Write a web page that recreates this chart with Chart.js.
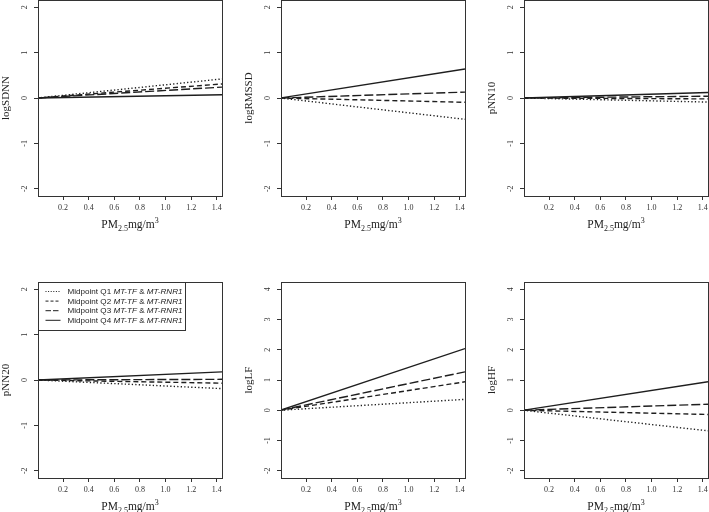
<!DOCTYPE html>
<html>
<head>
<meta charset="utf-8">
<script src="https://cdn.jsdelivr.net/npm/chart.js@4.4.0/dist/chart.umd.min.js"></script>
<style>
  html,body{margin:0;padding:0;background:#fff;}
  body{width:709px;height:512px;overflow:hidden;position:relative;}
  canvas{position:absolute;}
</style>
</head>
<body>
<script>
// ---------- data ----------
const panelNames = ['logSDNN', 'logRMSSD', 'pNN10', 'pNN20', 'logLF', 'logHF'];
const xValues = [0, 1.44];                       // PM2.5 (mg/m3) at line start / end
const q1Values = [[0, 0.42], [0, -0.47], [0, -0.09], [0, -0.19], [0, 0.36], [0, -0.68]];
const q2Values = [[0, 0.31], [0, -0.095], [0, -0.02], [0, -0.07], [0, 0.94], [0, -0.14]];
const q3Values = [[0, 0.24], [0, 0.13], [0, 0.04], [0, 0.015], [0, 1.27], [0, 0.20]];
const q4Values = [[0, 0.07], [0, 0.64], [0, 0.12], [0, 0.18], [0, 2.04], [0, 0.94]];
const yTickMin = [-2, -2, -2, -2, -2, -2];
const yTickMax = [2, 2, 2, 2, 4, 4];
const xTickMin = 0.2, xTickMax = 1.4;
const seriesLabels = ['Midpoint Q1', 'Midpoint Q2', 'Midpoint Q3', 'Midpoint Q4'];
const geneLabels = ['MT-TF', 'MT-RNR1'];

// ---------- styles ----------
const seriesValues = [q1Values, q2Values, q3Values, q4Values];
const dashes = [[1.3, 2.2], [5, 3], [9, 3], []];
const legendDashes = [[1, 1.6], [3, 2], [5.5, 2], []];
const lineColor = '#1e1e1e';
const axisColor = '#333';
const serif = "'Liberation Serif', 'Times New Roman', serif";
const sans = "'Liberation Sans', Arial, sans-serif";

const colLeft = [0, 243, 486];
const rowTop = [0, 256];
const W = 236, H = 256;
const areaTop = [0, 26];
const xAxisH = [60, 34];

const framePlugin = {
  id: 'frame',
  afterDraw(chart) {
    const {ctx, chartArea: a} = chart;
    ctx.save();
    ctx.strokeStyle = axisColor;
    ctx.lineWidth = 1;
    ctx.strokeRect(Math.round(a.left) + 0.5, Math.round(a.top) + 0.5,
                   Math.round(a.right - a.left), Math.round(a.bottom - a.top));
    // x-axis title with subscript / superscript
    const cx = (a.left + a.right) / 2;
    const by = a.bottom + 32;
    const parts = [
      {t: 'PM', s: 11.5, dy: 0},
      {t: '2.5', s: 8, dy: 3},
      {t: 'mg/m', s: 11.5, dy: 0},
      {t: '3', s: 8, dy: -5}
    ];
    let total = 0;
    parts.forEach(p => { ctx.font = p.s + 'px ' + serif; p.w = ctx.measureText(p.t).width; total += p.w; });
    let x = cx - total / 2;
    ctx.fillStyle = '#222';
    ctx.textBaseline = 'alphabetic';
    ctx.textAlign = 'left';
    parts.forEach(p => { ctx.font = p.s + 'px ' + serif; ctx.fillText(p.t, x, by + p.dy); x += p.w; });
    ctx.restore();
  }
};

const legendPlugin = {
  id: 'qlegend',
  afterDraw(chart) {
    if (!chart.options.plugins.qlegend || !chart.options.plugins.qlegend.show) return;
    const {ctx, chartArea: a} = chart;
    const left = Math.round(a.left) + 0.5, top = Math.round(a.top) + 0.5;
    ctx.save();
    ctx.strokeStyle = axisColor;
    ctx.lineWidth = 1;
    ctx.fillStyle = '#fff';
    ctx.fillRect(left, top, 147, 48);
    ctx.strokeRect(left, top, 147, 48);
    const rowY = [9, 18.6, 28.2, 37.8];
    seriesLabels.forEach((lab, i) => {
      const y = top + rowY[i];
      ctx.beginPath();
      ctx.setLineDash(legendDashes[i]);
      ctx.strokeStyle = lineColor;
      ctx.lineWidth = 1;
      ctx.moveTo(left + 7, y);
      ctx.lineTo(left + 22, y);
      ctx.stroke();
      ctx.setLineDash([]);
      const parts = [
        {t: lab + ' ', it: false},
        {t: geneLabels[0], it: true},
        {t: ' & ', it: false},
        {t: geneLabels[1], it: true}
      ];
      let x = left + 29;
      ctx.fillStyle = '#222';
      ctx.textBaseline = 'middle';
      ctx.textAlign = 'left';
      parts.forEach(p => {
        ctx.font = (p.it ? 'italic ' : '') + '8.1px ' + sans;
        ctx.fillText(p.t, x, y + 0.5);
        x += ctx.measureText(p.t).width;
      });
    });
    ctx.restore();
  }
};

panelNames.forEach((name, k) => {
  const row = Math.floor(k / 3), col = k % 3;
  const cv = document.createElement('canvas');
  cv.width = W; cv.height = H;
  cv.style.left = colLeft[col] + 'px';
  cv.style.top = rowTop[row] + 'px';
  cv.style.width = W + 'px'; cv.style.height = H + 'px';
  document.body.appendChild(cv);

  const span = yTickMax[k] - yTickMin[k];
  const datasets = seriesValues.map((vals, i) => ({
    label: seriesLabels[i],
    data: xValues.map((xv, j) => ({x: xv, y: vals[k][j]})),
    borderColor: lineColor,
    borderWidth: 1.4,
    borderDash: dashes[i],
    pointRadius: 0,
    fill: false,
    tension: 0
  }));

  new Chart(cv.getContext('2d'), {
    type: 'line',
    data: {datasets},
    plugins: [framePlugin, legendPlugin],
    options: {
      responsive: false,
      animation: false,
      events: [],
      layout: {padding: {left: 0, right: W - 222, top: areaTop[row], bottom: 0}},
      plugins: {
        legend: {display: false},
        tooltip: {enabled: false},
        qlegend: {show: k === 3}
      },
      scales: {
        x: {
          type: 'linear',
          min: 0.005,
          max: 1.44,
          border: {display: false},
          grid: {drawOnChartArea: false, drawTicks: true, tickLength: 4, color: axisColor, lineWidth: 1},
          ticks: {
            stepSize: 0.2,
            includeBounds: false,
            maxRotation: 0, minRotation: 0,
            autoSkip: false,
            padding: 3,
            color: '#333',
            font: {family: serif, size: 8},
            callback: v => (v >= xTickMin - 1e-9 && v <= xTickMax + 1e-9) ? v.toFixed(1) : ''
          },
          afterFit: s => { s.height = xAxisH[row]; s.paddingLeft = 0; s.paddingRight = 0; }
        },
        y: {
          type: 'linear',
          min: yTickMin[k] - 0.04 * span,
          max: yTickMax[k] + 0.04 * span,
          border: {display: false},
          grid: {drawOnChartArea: false, drawTicks: true, tickLength: 4, color: axisColor, lineWidth: 1},
          ticks: {
            stepSize: 1,
            includeBounds: false,
            minRotation: 90, maxRotation: 90,
            crossAlign: 'center',
            padding: 6,
            color: '#333',
            font: {family: serif, size: 8},
            callback: v => String(v)
          },
          title: {
            display: true,
            text: name,
            color: '#222',
            padding: {top: 0, bottom: 0},
            font: {family: serif, size: 11}
          },
          afterFit: s => { s.width = 38; s.paddingTop = 0; s.paddingBottom = 0; }
        }
      }
    }
  });
});
</script>
</body>
</html>
